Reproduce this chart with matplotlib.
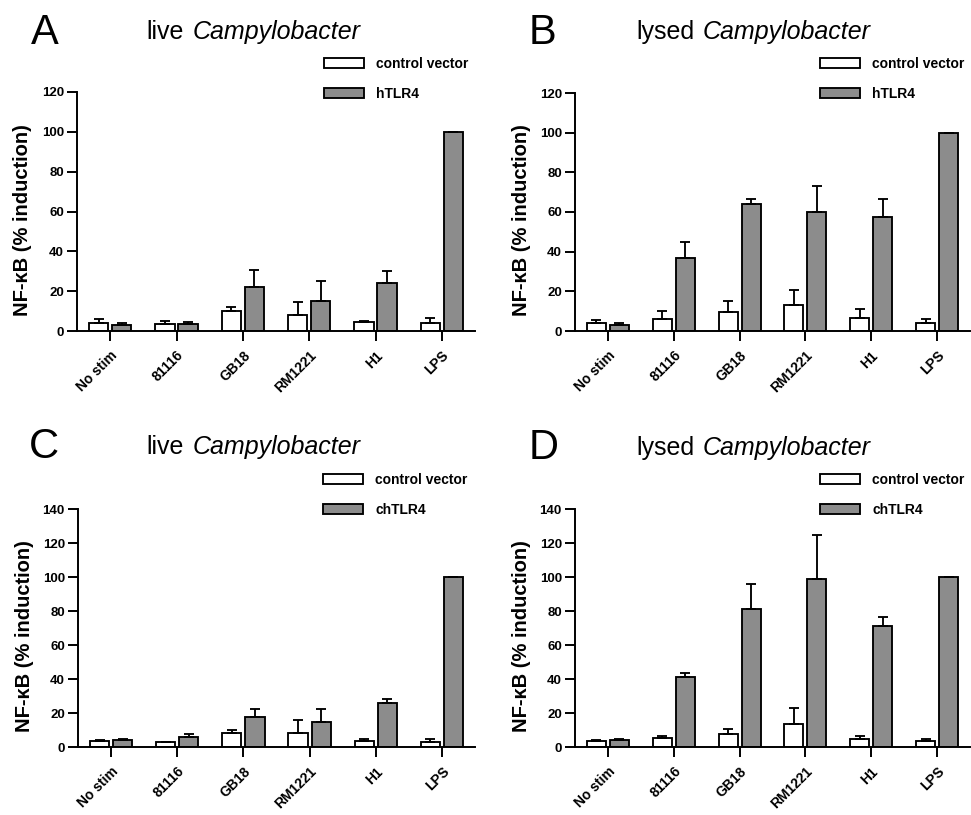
import numpy as np
import matplotlib
matplotlib.use("Agg")
import matplotlib.pyplot as plt
from matplotlib.patches import Patch

plt.rcParams['font.family'] = ['Liberation Sans', 'DejaVu Sans']

groups = ['No stim', '81116', 'GB18', 'RM1221', 'H1', 'LPS']

# panel A: live, hTLR4
a_ctrl = [4.0, 3.7, 9.9, 8.2, 4.4, 4.0]
a_ctrl_err = [2.0, 1.3, 2.2, 6.5, 0.6, 2.5]
a_tlr = [3.2, 3.5, 22.1, 15.2, 24.1, 100.0]
a_tlr_err = [0.8, 0.9, 8.4, 9.7, 5.9, 0.0]

# panel B: lysed, hTLR4
b_ctrl = [4.0, 6.2, 9.6, 13.2, 6.5, 4.0]
b_ctrl_err = [1.7, 3.7, 5.7, 7.4, 4.7, 2.2]
b_tlr = [3.2, 37.0, 64.0, 59.8, 57.7, 100.0]
b_tlr_err = [0.8, 7.7, 2.5, 13.4, 8.8, 0.0]

# panel C: live, chTLR4
c_ctrl = [3.3, 2.9, 8.4, 8.2, 3.7, 3.1]
c_ctrl_err = [0.6, 0.3, 1.6, 7.9, 1.0, 1.6]
c_tlr = [4.1, 5.7, 17.4, 14.5, 25.7, 100.0]
c_tlr_err = [0.8, 2.1, 5.1, 7.6, 2.5, 0.0]

# panel D: lysed, chTLR4
d_ctrl = [3.3, 5.1, 7.8, 13.3, 4.7, 3.3]
d_ctrl_err = [0.6, 1.4, 2.8, 9.4, 2.0, 1.4]
d_tlr = [4.1, 40.9, 80.9, 99.1, 70.9, 100.0]
d_tlr_err = [0.6, 2.4, 15.0, 25.6, 5.7, 0.0]

W, H = 971, 815
fig = plt.figure(figsize=(W / 100, H / 100), dpi=100)

GRAY = '#8c8c8c'
LW = 1.35


def px_rect(l, r, b, t):
    return [l / W, 1 - b / H, (r - l) / W, (b - t) / H]


def panel(rect, ctrl, ctrl_err, tlr, tlr_err, ymax):
    ax = fig.add_axes(rect)
    x = np.arange(len(groups))
    bw = 0.29
    off = 0.175
    z = [0] * len(groups)
    ekw = dict(elinewidth=LW, capthick=LW, ecolor='black')
    ax.bar(x - off, ctrl, bw, color='white', edgecolor='black', linewidth=LW,
           yerr=[z, ctrl_err], capsize=3.6, error_kw=ekw, zorder=2)
    ax.bar(x + off, tlr, bw, color=GRAY, edgecolor='black', linewidth=LW,
           yerr=[z, tlr_err], capsize=3.6, error_kw=ekw, zorder=2)
    ax.set_xlim(-0.5, len(groups) - 0.5)
    ax.set_ylim(0, ymax)
    ax.set_yticks(np.arange(0, ymax + 1, 20))
    ax.set_xticks(x)
    ax.set_xticklabels(groups, rotation=45, ha='right', rotation_mode='anchor',
                       fontweight='bold', fontsize=10)
    for lab in ax.get_yticklabels():
        lab.set_fontweight('bold')
        lab.set_fontsize(9.5)
    for s in ['top', 'right']:
        ax.spines[s].set_visible(False)
    for s in ['left', 'bottom']:
        ax.spines[s].set_linewidth(1.4)
        ax.spines[s].set_zorder(3)
    ax.tick_params(axis='both', direction='out', length=7.5, width=1.4, pad=2)
    ax.tick_params(axis='x', pad=5)
    ax.set_ylabel('NF-\u03baB (% induction)', fontsize=14.5, fontweight='bold')
    # label sits a bit below the axis centre in the original
    ax.yaxis.set_label_coords(-0.112, 0.465)
    handles = [Patch(facecolor='white', edgecolor='black', linewidth=LW),
               Patch(facecolor=GRAY, edgecolor='black', linewidth=LW)]
    return ax, handles


def legend(handles, name, xpx, ypx):
    fig.legend(handles, ['control vector', name], loc='upper left',
               bbox_to_anchor=(xpx / W, 1 - ypx / H), frameon=False,
               prop=dict(weight='bold', size=10), handlelength=2.9,
               handleheight=0.8, handletextpad=0.85, labelspacing=1.15,
               borderpad=0, borderaxespad=0)


def title(letter, lx, ly, word, split, ty):
    fig.text(lx / W, 1 - ly / H, letter, fontsize=30, va='baseline')
    fig.text((split - 4) / W, 1 - ty / H, word, fontsize=18, ha='right',
             va='baseline')
    fig.text((split + 5) / W, 1 - ty / H, 'Campylobacter', fontsize=18,
             style='italic', ha='left', va='baseline')


axA, hA = panel(px_rect(77, 475, 331, 92), a_ctrl, a_ctrl_err, a_tlr, a_tlr_err, 120)
axB, hB = panel(px_rect(575, 970, 331, 93), b_ctrl, b_ctrl_err, b_tlr, b_tlr_err, 120)
axC, hC = panel(px_rect(78, 475, 747, 509), c_ctrl, c_ctrl_err, c_tlr, c_tlr_err, 140)
axD, hD = panel(px_rect(575, 970, 747, 509), d_ctrl, d_ctrl_err, d_tlr, d_tlr_err, 140)

legend(hA, 'hTLR4', 324, 57)
legend(hB, 'hTLR4', 820, 57)
legend(hC, 'chTLR4', 323, 473)
legend(hD, 'chTLR4', 820, 473)

title('A', 31, 44, 'live', 188, 39)
title('B', 529, 44, 'lysed', 698, 39)
title('C', 29, 458, 'live', 188, 454)
title('D', 529, 459, 'lysed', 698, 455)

fig.savefig('out.png', dpi=100)
